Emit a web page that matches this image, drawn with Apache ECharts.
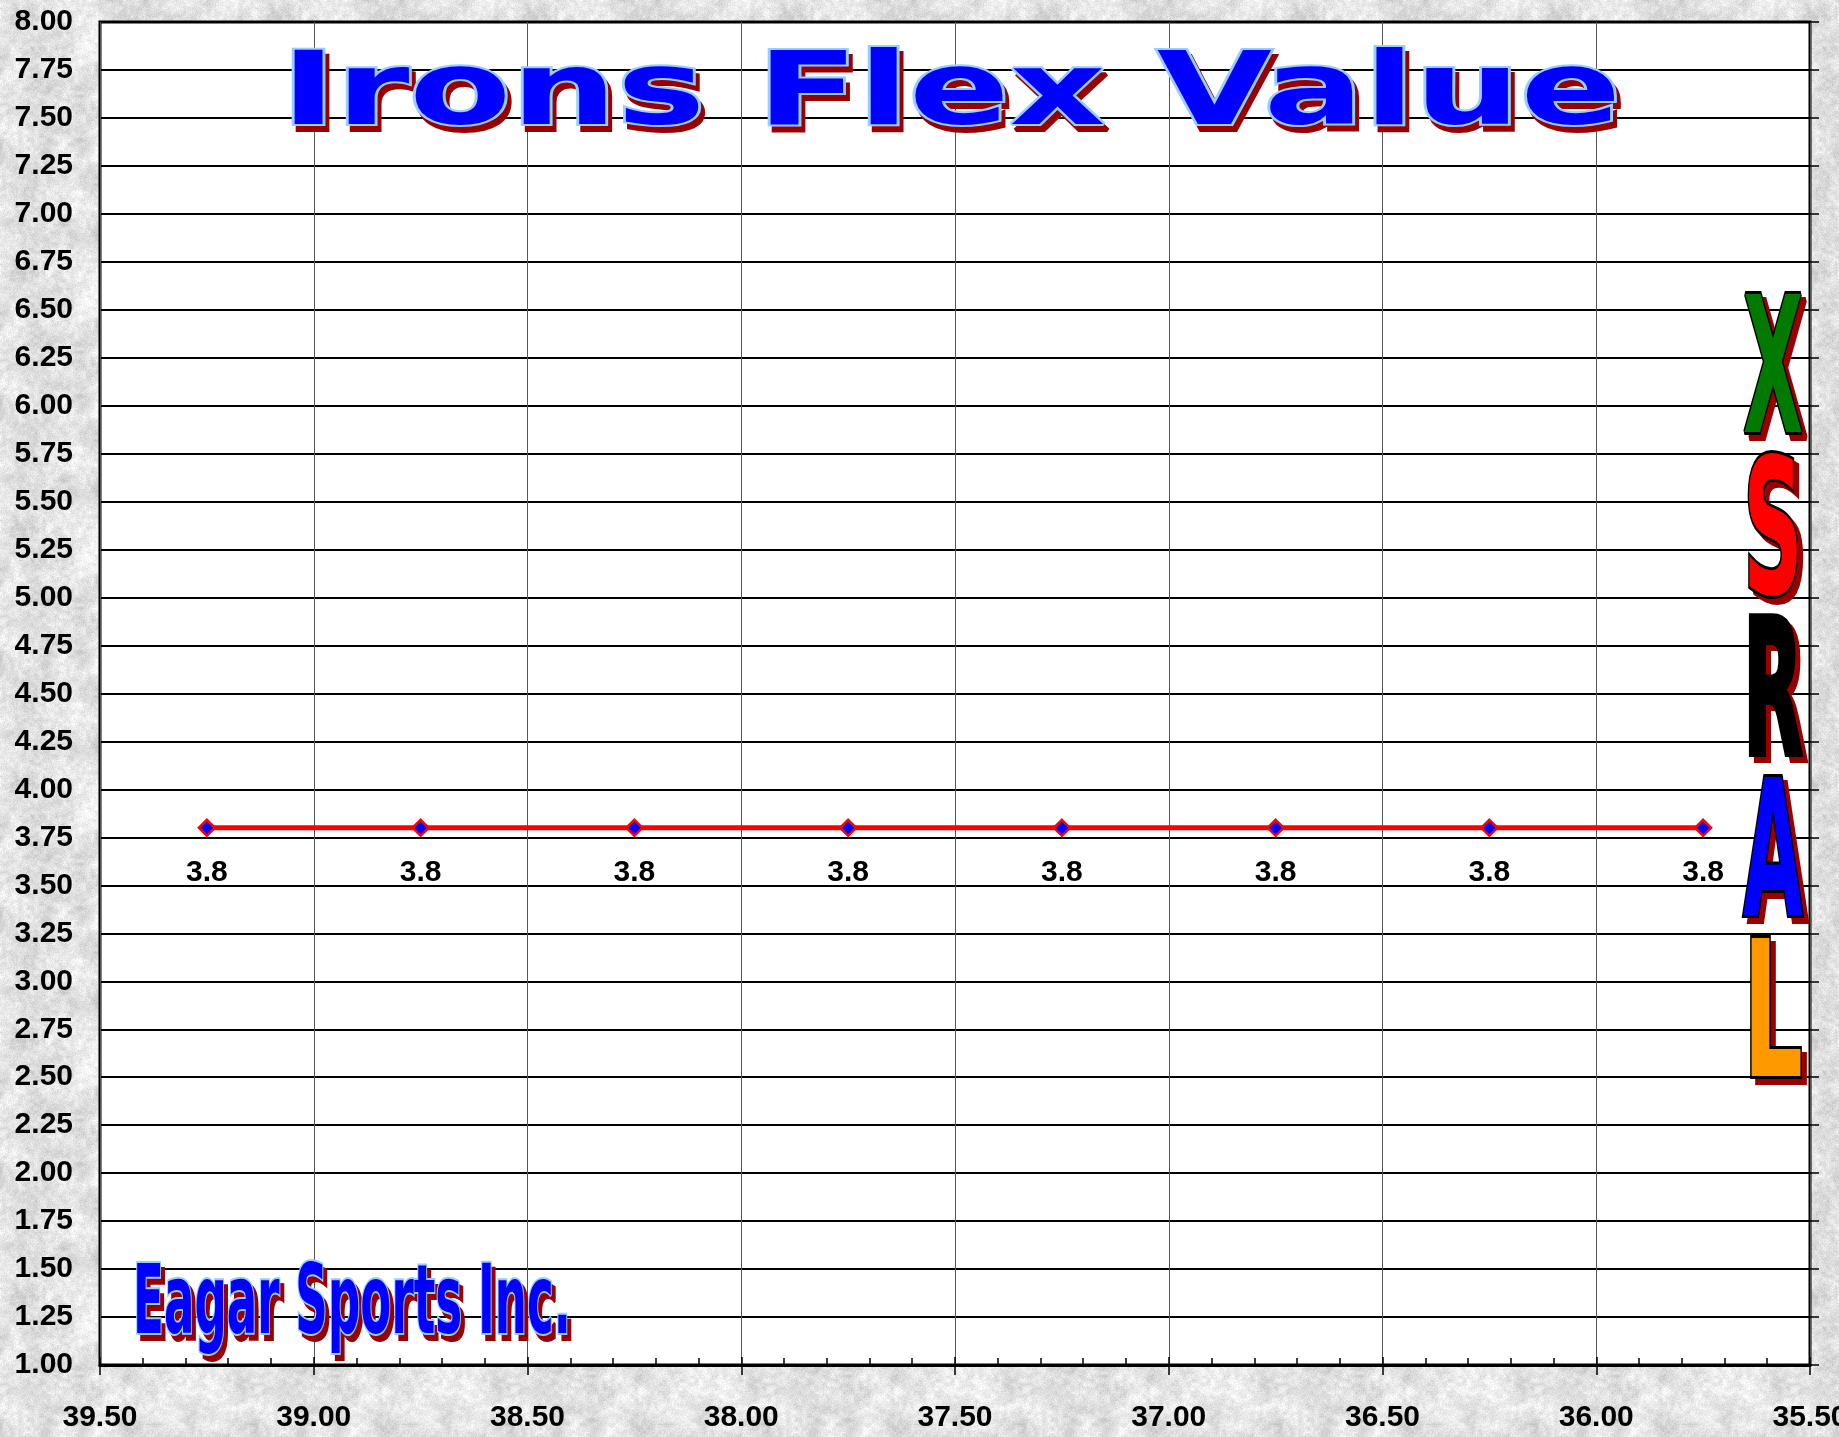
<!DOCTYPE html>
<html><head><meta charset="utf-8">
<script src="https://cdn.jsdelivr.net/npm/echarts@6/dist/echarts.min.js"></script>
<style>html,body{margin:0;padding:0;} #chart{width:1839px;height:1437px;}</style>
</head><body><div id="chart"></div>
<script>
// ---- data ----
const shaftLength = [39.25, 38.75, 38.25, 37.75, 37.25, 36.75, 36.25, 35.75];
const flexValue = [3.8, 3.8, 3.8, 3.8, 3.8, 3.8, 3.8, 3.8];
const xMin = 35.5, xMax = 39.5, xStep = 0.5;
const yMin = 1, yMax = 8, yStep = 0.25;
const titleText = 'Irons Flex Value';
const brandText = 'Eagar Sports Inc.';
const flexLetters = ['X', 'S', 'R', 'A', 'L'];
const flexLetterColors = ['#007a00', '#ff0000', '#000000', '#0000ff', '#ff9900'];

// ---- granite-like background texture (decoration only) ----
function makeTexture() {
  const N = 256, c = document.createElement('canvas'); c.width = c.height = N;
  const ctx = c.getContext('2d'); const img = ctx.createImageData(N, N);
  function h(x, y, s) { let n = Math.imul(x, 374761393) + Math.imul(y, 668265263) + Math.imul(s, 982451653); n = Math.imul(n ^ (n >>> 13), 1274126177); n ^= n >>> 16; return (n >>> 0) / 4294967296; }
  function vn(x, y, cell, s) {
    const g = N / cell, gx = x / cell, gy = y / cell, x0 = Math.floor(gx), y0 = Math.floor(gy), fx = gx - x0, fy = gy - y0;
    const a = h(x0 % g, y0 % g, s), b = h((x0 + 1) % g, y0 % g, s), cc = h(x0 % g, (y0 + 1) % g, s), d = h((x0 + 1) % g, (y0 + 1) % g, s);
    return (a * (1 - fx) + b * fx) * (1 - fy) + (cc * (1 - fx) + d * fx) * fy;
  }
  for (let y = 0; y < N; y++) for (let x = 0; x < N; x++) {
    let v = 226 + 34 * (vn(x, y, 16, 1) - 0.5) + 26 * (vn(x, y, 4, 2) - 0.5) + 22 * (h(x, y, 3) - 0.5);
    v = Math.max(150, Math.min(255, v));
    const i = (y * N + x) * 4; img.data[i] = img.data[i + 1] = img.data[i + 2] = v; img.data[i + 3] = 255;
  }
  ctx.putImageData(img, 0, 0); return c.toDataURL();
}
document.body.style.background = 'url(' + makeTexture() + ') repeat';

// ---- fancy text helper ----
const mctx = document.createElement('canvas').getContext('2d');
function textW(t, font) { mctx.font = font; return mctx.measureText(t).width; }
function fancy(text, cx, cy, w, capH, fill, stroke, lw, shadow, dx, dy, z) {
  const fs = Math.round(capH / 0.729);
  const font = 'bold ' + fs + 'px "DejaVu Sans"';
  const sx = w / textW(text, font);
  const yy = cy + 0.085 * fs;
  const base = { text: text, font: font, align: 'center', verticalAlign: 'middle', textAlign: 'center', textVerticalAlign: 'middle' };
  return [
    { type: 'text', x: cx + dx, y: yy + dy, scaleX: sx, z: z, silent: true,
      style: Object.assign({}, base, { fill: shadow, stroke: shadow, lineWidth: lw }) },
    { type: 'text', x: cx, y: yy, scaleX: sx, z: z + 1, silent: true,
      style: Object.assign({}, base, { fill: fill, stroke: stroke, lineWidth: lw }) }
  ];
}

let graphics = [];
graphics = graphics.concat(fancy(titleText, 951, 89, 1340, 74, '#0000ff', '#99ccff', 4, '#990000', 4, 6, 100));
graphics = graphics.concat(fancy(brandText, 352, 1300, 438, 70, '#0000ff', '#99ccff', 4, '#990000', 4, 6, 100));
flexLetters.forEach(function (L, i) {
  graphics = graphics.concat(fancy(L, 1773, 367 + i * 161, 60, 138, flexLetterColors[i], '#000000', 6, '#990000', 5, 6, 100));
});

const labelFont = { fontFamily: '"Liberation Sans", Arial, sans-serif', fontWeight: 'bold', fontSize: 30, color: '#000' };

const chart = echarts.init(document.getElementById('chart'), null, { renderer: 'canvas' });
chart.setOption({
  animation: false,
  backgroundColor: 'transparent',
  grid: { left: 100, right: 29, top: 22, bottom: 72, containLabel: false, outerBoundsMode: 'none',
    show: true, backgroundColor: '#ffffff', borderColor: '#000', borderWidth: 3 },
  xAxis: [
    { type: 'value', min: xMin, max: xMax, interval: xStep, inverse: true, position: 'bottom',
      axisLine: { show: true, lineStyle: { color: '#000', width: 3 } },
      axisTick: { show: true, inside: false, length: 10, lineStyle: { color: '#000', width: 1.5 } },
      minorTick: { show: false },
      axisLabel: Object.assign({ margin: 38, formatter: function (v) { return v.toFixed(2); }, showMinLabel: true, showMaxLabel: true, hideOverlap: false }, labelFont),
      splitLine: { show: true, lineStyle: { color: '#555', width: 1 } } },
    { type: 'value', min: xMin, max: xMax, interval: xStep, inverse: true, position: 'bottom',
      axisLine: { show: false },
      axisTick: { show: true, inside: true, length: 8, lineStyle: { color: '#000', width: 1.5 } },
      minorTick: { show: true, splitNumber: 5, length: 7, lineStyle: { color: '#000', width: 1.5 } },
      axisLabel: { show: false }, splitLine: { show: false } }
  ],
  yAxis: [
    { type: 'value', min: yMin, max: yMax, interval: yStep, position: 'left',
      axisLine: { show: false }, axisTick: { show: false },
      axisLabel: Object.assign({ margin: 27, formatter: function (v) { return v.toFixed(2); }, showMinLabel: true, showMaxLabel: true }, labelFont),
      splitLine: { show: true, lineStyle: { color: '#000', width: 2 } } },
    { type: 'value', min: yMin, max: yMax, interval: yStep, position: 'right',
      axisLine: { show: false },
      axisTick: { show: true, inside: false, length: 9, lineStyle: { color: '#000', width: 1.5 } },
      axisLabel: { show: false }, splitLine: { show: false } }
  ],
  series: [{
    type: 'line', xAxisIndex: 0, yAxisIndex: 0,
    data: shaftLength.map(function (x, i) { return [x, flexValue[i]]; }),
    symbol: 'diamond', symbolSize: 16,
    itemStyle: { color: '#0000ff', borderColor: '#ff0000', borderWidth: 2.5 },
    lineStyle: { color: '#ff0000', width: 5 },
    label: Object.assign({ show: true, position: 'bottom', distance: 21, formatter: function (p) { return p.value[1].toFixed(1); } }, labelFont),
    z: 5
  }],
  graphic: graphics
});
</script>
</body></html>
